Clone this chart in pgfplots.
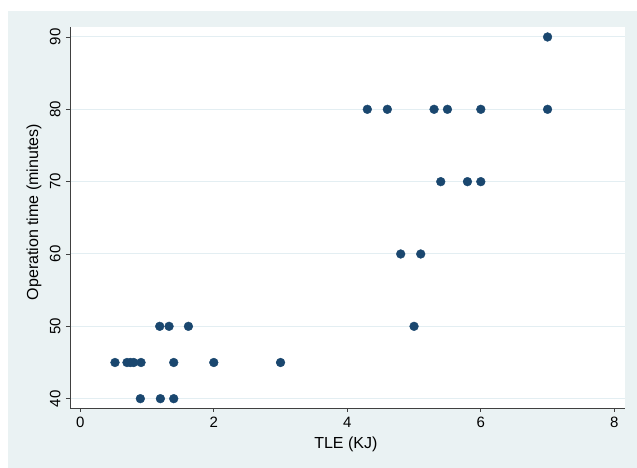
\documentclass[border=0pt]{standalone}
\usepackage{pgfplots}
\pgfplotsset{compat=1.18}
\usepackage{fontspec}
\setmainfont{Liberation Sans}
\definecolor{bgblue}{HTML}{EAF2F3}
\definecolor{gridc}{HTML}{E3EEF2}
\definecolor{navy}{HTML}{1A476F}
\begin{document}
\begin{tikzpicture}
\fill[white] (0,0) rectangle (637bp,468bp);
\fill[bgblue] (7.5bp,0) rectangle (637bp,457bp);
\begin{axis}[
  at={(70bp,60bp)}, anchor=south west,
  scale only axis, width=555bp, height=381bp,
  xmin=-0.154, xmax=8.16, ymin=38.71, ymax=91.38,
  axis background/.style={fill=white},
  axis x line*=bottom, axis y line*=left,
  axis line style={black!75, line width=0.8bp, -},
  xtick={0,2,4,6,8}, ytick={40,50,60,70,80,90},
  tick align=outside, major tick length=4bp,
  tick style={black!75, line width=0.8bp},
  ymajorgrids, grid style={gridc, line width=1bp},
  tick label style={font=\fontsize{15bp}{18bp}\selectfont},
  label style={font=\fontsize{16bp}{19bp}\selectfont},
  /pgf/number format/assume math mode=true,
  yticklabel style={rotate=90, anchor=south},
  yticklabel shift=2bp,
  xticklabel shift=2bp,
  xlabel={TLE (KJ)}, ylabel={Operation time (minutes)},
  xlabel style={at={(axis description cs:0.497,-0.0945)}, anchor=center},
  ylabel style={at={(axis description cs:-0.0649,0.514)}, anchor=center},
  clip=false,
]
\addplot[only marks, mark=*, mark size=4.4bp, mark options={fill=navy, draw=navy}] coordinates {
(0.52,45) (0.70,45) (0.75,45) (0.80,45) (0.91,45) (1.40,45) (2.0,45) (3.0,45)
(1.19,50) (1.33,50) (1.62,50)
(0.90,40) (1.20,40) (1.40,40)
(7.0,90)
(4.3,80) (4.6,80) (5.3,80) (5.5,80) (6.0,80) (7.0,80)
(5.4,70) (5.8,70) (6.0,70)
(4.8,60) (5.1,60)
(5.0,50)
};
\end{axis}
\pgfresetboundingbox
\useasboundingbox (0,0) rectangle (637bp,468bp);
\end{tikzpicture}
\end{document}
